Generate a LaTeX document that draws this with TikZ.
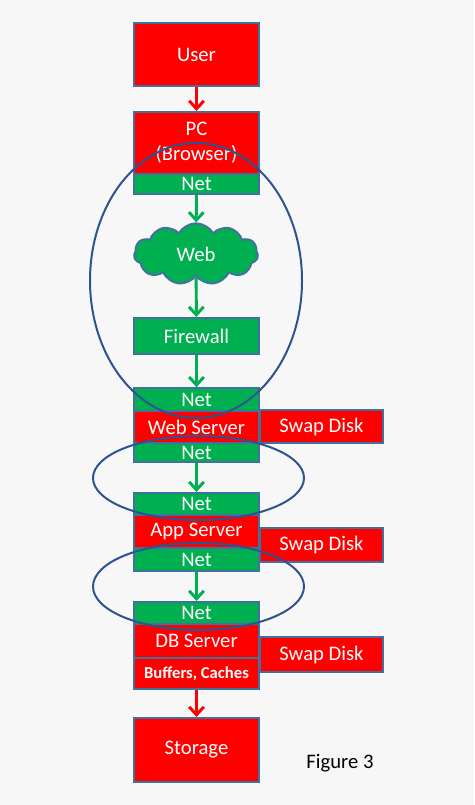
\documentclass[tikz,border=0pt]{standalone}
\usepackage{fontspec}
\setmainfont{Carlito}
\usetikzlibrary{positioning,shapes.symbols,arrows.meta}
\definecolor{boxred}{HTML}{FF0000}
\definecolor{boxgreen}{HTML}{00B050}
\definecolor{edge}{HTML}{41719C}
\definecolor{ring}{HTML}{2F5290}
\definecolor{paper}{HTML}{F7F7F7}
\tikzset{
  tier/.style={draw=edge, line width=1.5pt, text=white, font=\fontsize{15.5}{18.5}\selectfont,
    minimum width=94pt, inner sep=0pt, align=center},
  redbox/.style={tier, fill=boxred},
  netbox/.style={tier, fill=boxgreen},
  swapbox/.style={redbox, minimum width=92pt},
  hop/.style={line width=2.2pt, -{Straight Barb[length=6pt,width=11pt,line width=2.2pt]}},
  zone/.style={draw=ring, line width=1.5pt}
}
\begin{document}
\begin{tikzpicture}[x=0.75pt,y=-0.75pt]
        \fill[paper] (0,0) rectangle (474,805);
        % client side
        \node[redbox, minimum height=47pt] (user) at (196.5,54.5) {User};
        \node[redbox, minimum height=46.5pt] (pc) at (196.5,143) {PC\\(Browser)};
        \node[netbox, minimum height=15pt] (pcnet) at (196.5,184) {Net};
        \node[cloud, cloud puffs=11, cloud puff arc=120, aspect=2.1, draw=edge, line width=1.5pt,
              fill=boxgreen, text=white, font=\fontsize{15.5}{18.5}\selectfont,
              minimum width=93pt, minimum height=46pt, inner sep=0pt] (web) at (196,254) {Web};
        \node[netbox, minimum height=27pt] (firewall) at (196.5,336) {Firewall};
        % web server
        \node[netbox, minimum height=17pt] (wsin) at (196.5,399.5) {Net};
        \node[redbox, minimum height=24pt] (ws) at (196.5,427) {Web Server};
        \node[netbox, minimum height=14.5pt] (wsout) at (196.5,452.5) {Net};
        \node[swapbox, minimum height=25pt] (wsswap) at (321.5,426.5) {Swap Disk};
        % app server
        \node[netbox, minimum height=16.5pt] (asin) at (196.5,504) {Net};
        \node[redbox, minimum height=25pt] (as) at (196.5,531.5) {App Server};
        \node[netbox, minimum height=17pt] (asout) at (196.5,559.5) {Net};
        \node[swapbox, minimum height=25.5pt] (asswap) at (321.5,545) {Swap Disk};
        % db server
        \node[netbox, minimum height=16.5pt] (dbin) at (196.5,613) {Net};
        \node[redbox, minimum height=25.5pt] (db) at (196.5,641) {DB Server};
        \node[redbox, minimum height=23pt, font=\fontsize{12.5}{15}\selectfont\bfseries] (cache) at (196.5,673.5) {Buffers, Caches};
        \node[swapbox, minimum height=26pt] (dbswap) at (321.5,654.5) {Swap Disk};
        \node[redbox, minimum height=48pt] (storage) at (196.5,750) {Storage};
        \node[font=\fontsize{15.5}{18.5}\selectfont] (caption) at (340,763) {Figure 3};
        % connectors
        \draw[hop, boxred] (user) -- (pc);
        \draw[hop, boxgreen] (pcnet) -- (web);
        \draw[hop, boxgreen] (web) -- (firewall);
        \draw[hop, boxgreen] (firewall) -- (wsin);
        \draw[hop, boxgreen] (wsout) -- (asin);
        \draw[hop, boxgreen] (asout) -- (dbin);
        \draw[hop, boxred] (cache) -- (storage);
        % network zones
        \draw[zone] (196,280.5) ellipse [x radius=106, y radius=137.5];
        \draw[zone] (198.5,478) ellipse [x radius=105.5, y radius=42];
        \draw[zone] (198.5,586.5) ellipse [x radius=105.5, y radius=43.5];
    \end{tikzpicture}
\end{document}
